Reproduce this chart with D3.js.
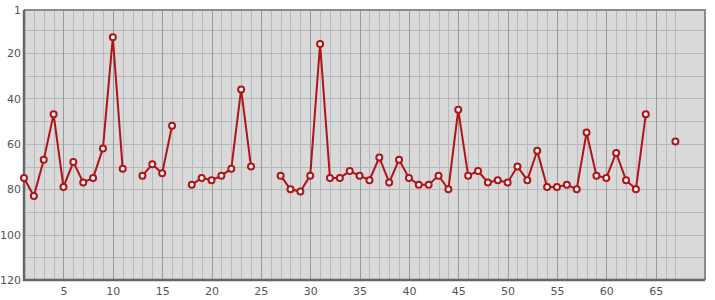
<!DOCTYPE html>
<html>
<head>
<meta charset="utf-8">
<script src="https://cdn.jsdelivr.net/npm/d3@7"></script>
<style>
  html, body { margin: 0; padding: 0; background: #ffffff; }
  svg { display: block; }
  text { font-family: "DejaVu Sans", sans-serif; font-size: 11px; fill: #555; }
</style>
</head>
<body>
<svg id="chart" width="715" height="300"></svg>
<script>
// Values for positions 1..67 (null = no value)
const values = [
  75, 83, 67, 47, 79, 68, 77, 75, 62, 13,
  71, null, 74, 69, 73, 52, null, 78, 75, 76,
  74, 71, 36, 70, null, null, 74, 80, 81, 74,
  16, 75, 75, 72, 74, 76, 66, 77, 67, 75,
  78, 78, 74, 80, 45, 74, 72, 77, 76, 77,
  70, 76, 63, 79, 79, 78, 80, 55, 74, 75,
  64, 76, 80, 47, null, null, 59
];
const xTickValues = [5, 10, 15, 20, 25, 30, 35, 40, 45, 50, 55, 60, 65];
const yTickValues = [1, 20, 40, 60, 80, 100, 120];
const yGridValues = [10, 20, 30, 40, 50, 60, 70, 80, 90, 100, 110];
const xDomain = [1, 70];
const yDomain = [1, 120];

(function () {
const data = values.map((v, i) => ({ x: i + 1, v: v }));

const svg = d3.select("#chart");
const pL = 24, pR = 705, pT = 10, pB = 280;

const x = d3.scaleLinear().domain(xDomain).range([pL, pR]);
const y = d3.scaleLinear().domain(yDomain).range([pT, pB]);

// plot background
svg.append("rect")
  .attr("x", pL).attr("y", pT)
  .attr("width", pR - pL).attr("height", pB - pT)
  .attr("fill", "#d9d9d9");

// horizontal grid
svg.append("g").selectAll("line").data(yGridValues).join("line")
  .attr("x1", pL).attr("x2", pR)
  .attr("y1", d => Math.round(y(d)) + 0.5).attr("y2", d => Math.round(y(d)) + 0.5)
  .attr("stroke", "#b8b8b8").attr("stroke-width", 1);

// vertical grid (one per category)
svg.append("g").selectAll("line").data(data.map(d => d.x).filter(d => d > 1)).join("line")
  .attr("x1", d => Math.round(x(d)) + 0.5).attr("x2", d => Math.round(x(d)) + 0.5)
  .attr("y1", pT).attr("y2", pB)
  .attr("stroke", d => d % 5 === 0 ? "#9a9a9a" : "#b8b8b8").attr("stroke-width", 1);

// border
svg.append("path")
  .attr("d", `M${pL},${pT}H${pR}V${pB}`)
  .attr("fill", "none").attr("stroke", "#8a8a8a").attr("stroke-width", 2);
svg.append("path")
  .attr("d", `M${pL},${pT}V${pB}H${pR}`)
  .attr("fill", "none").attr("stroke", "#666").attr("stroke-width", 2.5);

// axes
const xAxis = d3.axisBottom(x).tickValues(xTickValues).tickSize(0).tickPadding(7);
const gx = svg.append("g").attr("transform", `translate(0,${pB})`).call(xAxis);
gx.select(".domain").remove();
gx.selectAll("text").attr("fill", "#555").style("font-size", "11px").style("font-family", "DejaVu Sans, sans-serif");

const yAxis = d3.axisLeft(y).tickValues(yTickValues).tickSize(0).tickPadding(3);
const gy = svg.append("g").attr("transform", `translate(${pL},0)`).call(yAxis);
gy.select(".domain").remove();
gy.selectAll("text").attr("fill", "#555").style("font-size", "11px").style("font-family", "DejaVu Sans, sans-serif");

// line
const line = d3.line()
  .defined(d => d.v !== null)
  .x(d => x(d.x)).y(d => y(d.v));

svg.append("path")
  .datum(data)
  .attr("d", line)
  .attr("fill", "none")
  .attr("stroke", "#b01418")
  .attr("stroke-width", 2)
  .attr("stroke-linejoin", "miter");

// markers
svg.append("g").selectAll("circle").data(data.filter(d => d.v !== null)).join("circle")
  .attr("cx", d => x(d.x)).attr("cy", d => y(d.v))
  .attr("r", 3)
  .attr("fill", "#ffffff")
  .attr("stroke", "#b01418")
  .attr("stroke-width", 2);
})();
</script>
</body>
</html>
